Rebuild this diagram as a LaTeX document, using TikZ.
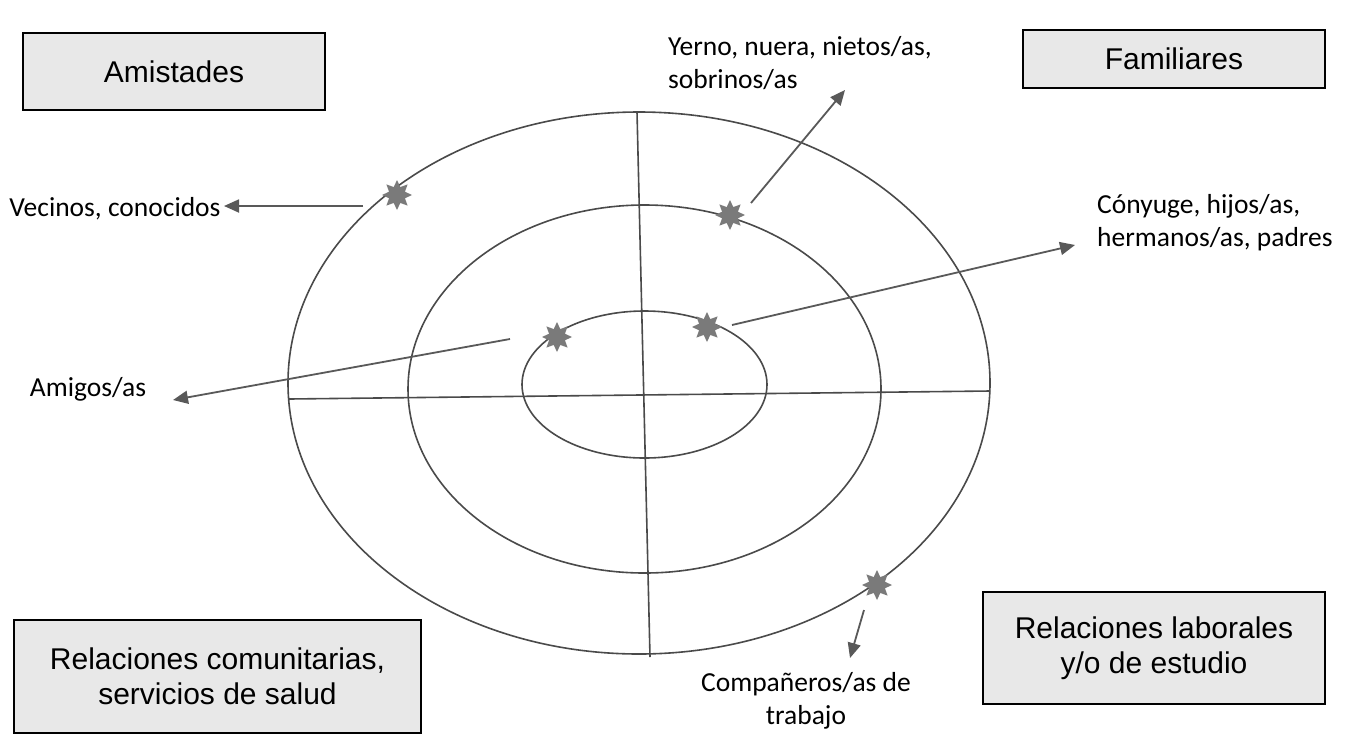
\documentclass[tikz,border=0pt]{standalone}
\usepackage{fontspec}
\setmainfont{Liberation Sans}
\newfontfamily\calib{Carlito}
\usetikzlibrary{arrows.meta,shapes.geometric}
\definecolor{boxgray}{HTML}{E8E8E8}
\definecolor{ringgray}{HTML}{4A4A4A}
\definecolor{arrgray}{HTML}{595959}
\definecolor{stargray}{HTML}{7A7A7A}
\begin{document}
\begin{tikzpicture}[x=1pt,y=-1pt,
  box/.style={draw=black,line width=1.1pt,fill=boxgray,font=\fontsize{30}{35}\selectfont,align=center,inner sep=0pt},
  lbl/.style={font=\calib\fontsize{27.5}{33}\selectfont,inner sep=1pt},
  ring/.style={draw=ringgray,line width=1.6pt},
  arr/.style={draw=arrgray,line width=1.8pt,-{Triangle[length=15pt,width=13pt]}},
  starmark/.style={star,star points=8,star point ratio=1.75,minimum size=30pt,inner sep=0pt,fill=stargray,draw=none}]
\useasboundingbox (0,0) rectangle (1346,748);
\fill[white] (0,0) rectangle (1346,748);

% rings
\draw[ring] (639,383) ellipse [x radius=351, y radius=271];
\draw[ring] (644.5,389) ellipse [x radius=236.5, y radius=184];
\draw[ring] (644.5,384.5) ellipse [x radius=122.5, y radius=73.5];
\coordinate (vtop) at (637,112);
\coordinate (vbot) at (650,657);
\coordinate (hl) at (289,399);
\coordinate (hr) at (990,391);
\draw[ring] (vtop) -- (vbot);
\draw[ring] (hl) -- (hr);

% boxes
\node[box,minimum width=302pt,minimum height=77pt] (amist) at (174,71.5) {Amistades};
\node[box,minimum width=302pt,minimum height=58pt] (fam) at (1174,59) {Familiares};
\node[box,minimum width=407pt,minimum height=113pt] (comun) at (217.5,676.5) {Relaciones comunitarias,\\servicios de salud};
\node[box,minimum width=342pt,minimum height=112pt] (labor) at (1154,648) {Relaciones laborales\\y/o de estudio};

% labels
\node[lbl,anchor=west,align=left] (yerno) at (667,63) {Yerno, nuera, nietos/as,\\sobrinos/as};
\node[lbl,anchor=west,align=left] (cony) at (1096,223) {Cónyuge, hijos/as,\\hermanos/as, padres};
\node[lbl] (vecinos) at (115,209) {Vecinos, conocidos};
\node[lbl] (amigos) at (88,389) {Amigos/as};
\node[lbl,align=center] (comp) at (806,701) {Compañeros/as de\\trabajo};

% stars
\node[starmark] (s1) at (397,195) {};
\node[starmark] (s2) at (730,215) {};
\node[starmark] (s3) at (557,337) {};
\node[starmark] (s4) at (707,327) {};
\node[starmark] (s5) at (877,585) {};

% arrows
\coordinate (a1) at (363,206);
\coordinate (e1) at (224,206);
\coordinate (a2) at (751,203);
\coordinate (e2) at (845,90);
\coordinate (a3) at (732,325);
\coordinate (e3) at (1075,245);
\coordinate (a4) at (510,339);
\coordinate (e4) at (173,400);
\coordinate (a5) at (864,610);
\coordinate (e5) at (850,658);
\draw[arr] (a1) -- (e1);
\draw[arr] (a2) -- (e2);
\draw[arr] (a3) -- (e3);
\draw[arr] (a4) -- (e4);
\draw[arr] (a5) -- (e5);
\end{tikzpicture}
\end{document}
